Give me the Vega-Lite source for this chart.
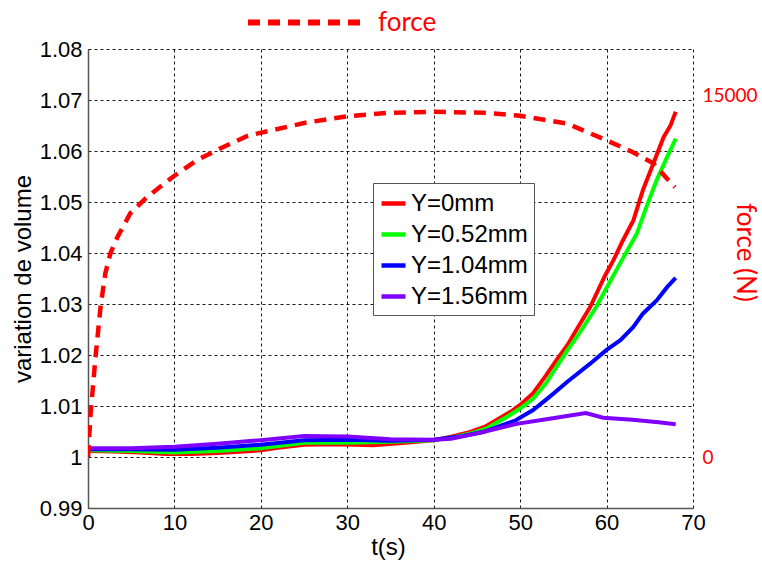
{
  "$schema": "https://vega.github.io/schema/vega-lite/v6.json",
  "width": 605,
  "height": 459,
  "autosize": {"type": "none"},
  "padding": {"left": 88, "top": 49, "right": 69, "bottom": 55},
  "background": "white",
  "config": {"view": {"stroke": null}, "font": "Liberation Sans"},
  "datasets": {
    "vol": [
      {"t":0,"v":1.0012,"s":"Y=0mm"},{"t":3,"v":1.0011,"s":"Y=0mm"},{"t":6,"v":1.0009,"s":"Y=0mm"},{"t":9,"v":1.0006,"s":"Y=0mm"},{"t":12,"v":1.0006,"s":"Y=0mm"},{"t":15,"v":1.0008,"s":"Y=0mm"},{"t":18,"v":1.0011,"s":"Y=0mm"},{"t":20,"v":1.0013,"s":"Y=0mm"},{"t":22,"v":1.0018,"s":"Y=0mm"},{"t":25,"v":1.0024,"s":"Y=0mm"},{"t":28,"v":1.0025,"s":"Y=0mm"},{"t":31,"v":1.0024,"s":"Y=0mm"},{"t":33,"v":1.0023,"s":"Y=0mm"},{"t":36,"v":1.0027,"s":"Y=0mm"},{"t":40,"v":1.0033,"s":"Y=0mm"},{"t":42,"v":1.004,"s":"Y=0mm"},{"t":44,"v":1.0048,"s":"Y=0mm"},{"t":46,"v":1.006,"s":"Y=0mm"},{"t":48,"v":1.008,"s":"Y=0mm"},{"t":49,"v":1.009,"s":"Y=0mm"},{"t":50,"v":1.0102,"s":"Y=0mm"},{"t":51.5,"v":1.0125,"s":"Y=0mm"},{"t":53,"v":1.016,"s":"Y=0mm"},{"t":54.2,"v":1.019,"s":"Y=0mm"},{"t":55.5,"v":1.022,"s":"Y=0mm"},{"t":56.5,"v":1.0249,"s":"Y=0mm"},{"t":58.1,"v":1.0294,"s":"Y=0mm"},{"t":59.8,"v":1.0355,"s":"Y=0mm"},{"t":60.8,"v":1.0386,"s":"Y=0mm"},{"t":61.9,"v":1.0425,"s":"Y=0mm"},{"t":63.1,"v":1.0464,"s":"Y=0mm"},{"t":64.2,"v":1.0523,"s":"Y=0mm"},{"t":65.4,"v":1.0575,"s":"Y=0mm"},{"t":66.6,"v":1.0627,"s":"Y=0mm"},{"t":67.4,"v":1.065,"s":"Y=0mm"},{"t":68,"v":1.0677,"s":"Y=0mm"},
      {"t":0,"v":1.0013,"s":"Y=0.52mm"},{"t":5,"v":1.0012,"s":"Y=0.52mm"},{"t":10,"v":1.0009,"s":"Y=0.52mm"},{"t":15,"v":1.0012,"s":"Y=0.52mm"},{"t":20,"v":1.0017,"s":"Y=0.52mm"},{"t":25,"v":1.0028,"s":"Y=0.52mm"},{"t":30,"v":1.0028,"s":"Y=0.52mm"},{"t":35,"v":1.003,"s":"Y=0.52mm"},{"t":40,"v":1.0033,"s":"Y=0.52mm"},{"t":42,"v":1.0038,"s":"Y=0.52mm"},{"t":44,"v":1.0045,"s":"Y=0.52mm"},{"t":46,"v":1.0055,"s":"Y=0.52mm"},{"t":48.4,"v":1.0078,"s":"Y=0.52mm"},{"t":50,"v":1.0095,"s":"Y=0.52mm"},{"t":51.5,"v":1.0114,"s":"Y=0.52mm"},{"t":53,"v":1.0145,"s":"Y=0.52mm"},{"t":54.3,"v":1.0179,"s":"Y=0.52mm"},{"t":55.5,"v":1.021,"s":"Y=0.52mm"},{"t":56.9,"v":1.0244,"s":"Y=0.52mm"},{"t":58.8,"v":1.0294,"s":"Y=0.52mm"},{"t":60.6,"v":1.035,"s":"Y=0.52mm"},{"t":61.9,"v":1.039,"s":"Y=0.52mm"},{"t":63.5,"v":1.0438,"s":"Y=0.52mm"},{"t":64.6,"v":1.049,"s":"Y=0.52mm"},{"t":65.8,"v":1.0543,"s":"Y=0.52mm"},{"t":67,"v":1.0588,"s":"Y=0.52mm"},{"t":68,"v":1.0624,"s":"Y=0.52mm"},
      {"t":0,"v":1.0015,"s":"Y=1.04mm"},{"t":5,"v":1.0015,"s":"Y=1.04mm"},{"t":10,"v":1.0014,"s":"Y=1.04mm"},{"t":15,"v":1.0018,"s":"Y=1.04mm"},{"t":20,"v":1.0024,"s":"Y=1.04mm"},{"t":25,"v":1.0033,"s":"Y=1.04mm"},{"t":30,"v":1.0034,"s":"Y=1.04mm"},{"t":35,"v":1.0032,"s":"Y=1.04mm"},{"t":40,"v":1.0034,"s":"Y=1.04mm"},{"t":43,"v":1.004,"s":"Y=1.04mm"},{"t":45.7,"v":1.0049,"s":"Y=1.04mm"},{"t":49.5,"v":1.0072,"s":"Y=1.04mm"},{"t":51.5,"v":1.0092,"s":"Y=1.04mm"},{"t":53.4,"v":1.0118,"s":"Y=1.04mm"},{"t":55.5,"v":1.0148,"s":"Y=1.04mm"},{"t":58.1,"v":1.0183,"s":"Y=1.04mm"},{"t":60,"v":1.021,"s":"Y=1.04mm"},{"t":61.6,"v":1.0229,"s":"Y=1.04mm"},{"t":63.1,"v":1.0255,"s":"Y=1.04mm"},{"t":64.2,"v":1.0281,"s":"Y=1.04mm"},{"t":65.8,"v":1.0307,"s":"Y=1.04mm"},{"t":67,"v":1.0333,"s":"Y=1.04mm"},{"t":68,"v":1.0351,"s":"Y=1.04mm"},
      {"t":0,"v":1.0017,"s":"Y=1.56mm"},{"t":5,"v":1.0017,"s":"Y=1.56mm"},{"t":10,"v":1.002,"s":"Y=1.56mm"},{"t":15,"v":1.0026,"s":"Y=1.56mm"},{"t":20,"v":1.0033,"s":"Y=1.56mm"},{"t":25,"v":1.0041,"s":"Y=1.56mm"},{"t":30,"v":1.004,"s":"Y=1.56mm"},{"t":35,"v":1.0035,"s":"Y=1.56mm"},{"t":40,"v":1.0034,"s":"Y=1.56mm"},{"t":42,"v":1.0036,"s":"Y=1.56mm"},{"t":45.7,"v":1.0049,"s":"Y=1.56mm"},{"t":49.6,"v":1.0065,"s":"Y=1.56mm"},{"t":53.4,"v":1.0075,"s":"Y=1.56mm"},{"t":57.6,"v":1.0086,"s":"Y=1.56mm"},{"t":59.6,"v":1.0077,"s":"Y=1.56mm"},{"t":63,"v":1.0073,"s":"Y=1.56mm"},{"t":66,"v":1.0068,"s":"Y=1.56mm"},{"t":68,"v":1.0064,"s":"Y=1.56mm"}
    ],
    "force": [
      {"t":0,"f":0,"k":"force"},{"t":0.3,"f":1798,"k":"force"},{"t":0.87,"f":4147,"k":"force"},{"t":1.45,"f":6220,"k":"force"},{"t":2.0,"f":7616,"k":"force"},{"t":2.6,"f":8463,"k":"force"},{"t":3.4,"f":9119,"k":"force"},{"t":4.9,"f":10113,"k":"force"},{"t":6.85,"f":10790,"k":"force"},{"t":9.8,"f":11615,"k":"force"},{"t":12.6,"f":12313,"k":"force"},{"t":15.3,"f":12800,"k":"force"},{"t":18.5,"f":13329,"k":"force"},{"t":22.2,"f":13625,"k":"force"},{"t":25,"f":13857,"k":"force"},{"t":30,"f":14133,"k":"force"},{"t":35,"f":14281,"k":"force"},{"t":40,"f":14323,"k":"force"},{"t":45.8,"f":14281,"k":"force"},{"t":50,"f":14154,"k":"force"},{"t":55.4,"f":13837,"k":"force"},{"t":60,"f":13138,"k":"force"},{"t":63,"f":12652,"k":"force"},{"t":65.4,"f":12186,"k":"force"},{"t":67.9,"f":11192,"k":"force"}
    ]
  },
  "layer": [
    {
      "data": {"name": "vol"},
      "mark": {"type": "line", "strokeWidth": 4, "clip": true},
      "encoding": {
        "x": {
          "field": "t", "type": "quantitative",
          "scale": {"domain": [0, 70], "nice": false},
          "axis": {
            "values": [0,10,20,30,40,50,60,70],
            "title": "t(s)", "titleFont": "Liberation Sans", "titleFontSize": 24, "titleFontWeight": "normal", "titleColor": "black",
            "titleX": 300, "titleY": 39, "titleBaseline": "middle", "titleAnchor": "middle",
            "labelFont": "Liberation Sans", "labelFontSize": 22, "labelColor": "black", "labelPadding": 4,
            "ticks": false, "domainColor": "#555", "domainWidth": 1.5,
            "grid": true, "gridColor": "black", "gridDash": [3, 3], "gridWidth": 1, "gridOpacity": 0.9,
            "labelFlush": false
          }
        },
        "y": {
          "field": "v", "type": "quantitative",
          "scale": {"domain": [0.99, 1.08], "nice": false, "zero": false},
          "axis": {
            "values": [0.99,1,1.01,1.02,1.03,1.04,1.05,1.06,1.07,1.08],
            "format": "~g",
            "title": "variation de volume", "titleFont": "Liberation Sans", "titleFontSize": 24, "titleFontWeight": "normal", "titleColor": "black",
            "titleX": -65, "titleBaseline": "middle",
            "labelFont": "Liberation Sans", "labelFontSize": 22, "labelColor": "black", "labelPadding": 6,
            "ticks": false, "domainColor": "#555", "domainWidth": 1.5,
            "grid": true, "gridColor": "black", "gridDash": [3, 3], "gridWidth": 1, "gridOpacity": 0.9,
            "labelFlush": false
          }
        },
        "color": {
          "field": "s", "type": "nominal",
          "scale": {"domain": ["Y=0mm", "Y=0.52mm", "Y=1.04mm", "Y=1.56mm"], "range": ["#ff0000", "#00ff00", "#0000ff", "#8000ff"]},
          "legend": {
            "title": null, "orient": "none", "legendX": 285, "legendY": 134,
            "padding": 6, "strokeColor": "#555", "fillColor": "white", "cornerRadius": 0,
            "symbolType": "stroke", "symbolSize": 576, "symbolStrokeWidth": 4.5,
            "labelFont": "Liberation Sans", "labelFontSize": 24, "labelColor": "black", "labelOffset": 3,
            "rowPadding": 4, "labelLimit": 300
          }
        }
      }
    },
    {
      "data": {"name": "force"},
      "mark": {"type": "line", "color": "red", "strokeWidth": 4.5, "clip": true},
      "encoding": {
        "x": {"field": "t", "type": "quantitative"},
        "y": {
          "field": "f", "type": "quantitative",
          "scale": {"domain": [-2115, 16925], "nice": false, "zero": false},
          "axis": {
            "orient": "right", "values": [0, 15000], "format": "d",
            "title": "force (N)", "titleFont": "Lato", "titleFontSize": 26, "titleFontWeight": "normal", "titleColor": "red",
            "titleX": 51, "titleY": 203, "titleBaseline": "middle", "titleAlign": "center", "titleAngle": 90,
            "labelFont": "Lato", "labelFontSize": 19, "labelColor": "red", "labelPadding": 9,
            "ticks": false, "domain": false, "grid": false
          }
        },
        "strokeDash": {
          "field": "k", "type": "nominal",
          "scale": {"range": [[12, 8]]},
          "legend": {
            "title": null, "orient": "none", "legendX": 157, "legendY": -88,
            "padding": 0, "symbolType": "stroke", "symbolSize": 13689, "symbolStrokeWidth": 6,
            "symbolStrokeColor": "red",
            "labelFont": "Lato", "labelFontSize": 26, "labelColor": "red", "labelOffset": 10
          }
        }
      }
    }
  ],
  "resolve": {"scale": {"y": "independent"}}
}
